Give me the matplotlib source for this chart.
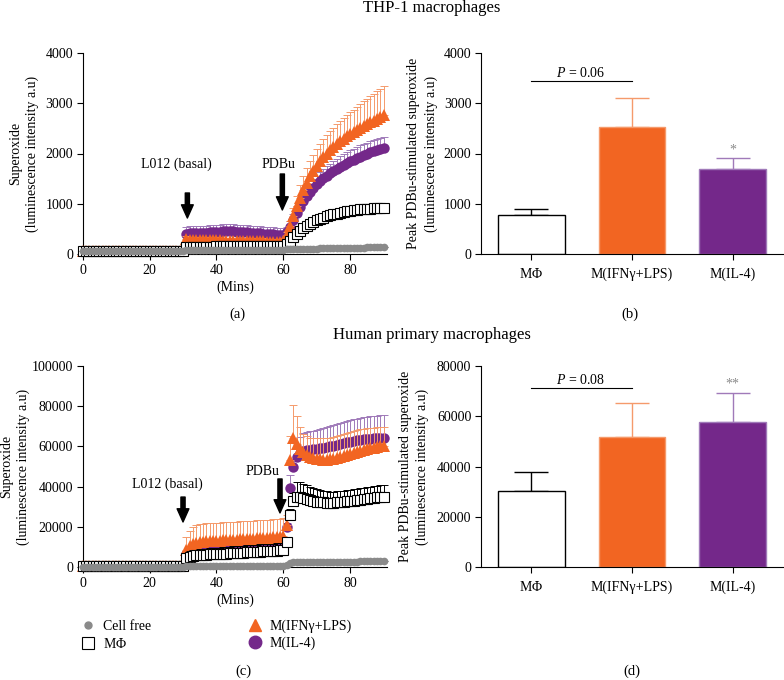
import numpy as np
import matplotlib
matplotlib.use("Agg")
import matplotlib.pyplot as plt
from matplotlib.lines import Line2D

plt.rcParams['font.family'] = 'serif'
plt.rcParams['font.serif'] = ['Liberation Serif', 'DejaVu Serif']
plt.rcParams['mathtext.fontset'] = 'custom'
plt.rcParams['mathtext.rm'] = 'Liberation Serif'
plt.rcParams['mathtext.it'] = 'Liberation Serif:italic'
plt.rcParams['font.size'] = 10

ORANGE = '#F26522'
ORANGE_LT = '#F59A6B'
PURPLE = '#74288A'
PURPLE_LT = '#A07AB9'
GREY = '#8A8A8A'

# time axis (minutes), one reading per minute
mins = np.arange(0, 91)

# ---- THP-1 time course (a) ----
thp_cellfree = [50]*31 + [85]*30 + [
    90, 92, 94, 96, 98, 100, 102, 104, 106, 108, 110, 111, 112, 114, 115,
    117, 118, 120, 121, 123, 124, 126, 127, 129, 130, 132, 134, 136, 138, 140]
thp_mphi = [60]*31 + [
    140, 142, 144, 145, 145, 146, 147, 148, 148, 150, 150, 150, 150, 150, 150,
    150, 150, 150, 150, 150, 150, 150, 150, 152, 153, 154, 155, 156, 158, 160] + [
    200, 260, 330, 400, 460, 510, 560, 600, 640, 670, 700, 725, 750, 770, 790,
    805, 820, 835, 850, 860, 870, 880, 888, 895, 900, 905, 910, 913, 916, 920]
thp_mphi_err = [10]*31 + [15]*30 + [
    40, 45, 50, 55, 60, 62, 64, 66, 68, 70, 70, 72, 72, 74, 74,
    75, 75, 76, 76, 77, 77, 78, 78, 78, 79, 79, 80, 80, 80, 80]
thp_ifn = [60]*31 + [
    290, 288, 286, 284, 282, 280, 278, 276, 274, 272, 270, 268, 266, 265, 264,
    262, 260, 258, 256, 255, 254, 252, 250, 249, 248, 246, 245, 244, 242, 250] + [
    380, 560, 760, 950, 1120, 1280, 1420, 1550, 1660, 1760, 1850, 1930, 2000, 2070, 2130,
    2190, 2240, 2290, 2340, 2380, 2420, 2460, 2500, 2540, 2580, 2620, 2650, 2690, 2720, 2760]
thp_ifn_err = [10]*31 + [60]*30 + [
    60, 100, 150, 200, 250, 280, 300, 310, 320, 330, 340, 350, 360, 370, 380,
    390, 400, 415, 430, 440, 455, 470, 480, 495, 510, 525, 540, 550, 565, 580]
thp_il4 = [60]*31 + [
    400, 410, 415, 420, 420, 425, 425, 430, 435, 440, 445, 450, 455, 455, 450,
    445, 440, 435, 430, 425, 420, 415, 410, 405, 400, 395, 390, 385, 375, 370] + [
    430, 540, 680, 820, 940, 1050, 1150, 1240, 1320, 1390, 1450, 1510, 1560, 1610, 1660,
    1700, 1740, 1780, 1820, 1850, 1880, 1910, 1940, 1970, 1990, 2020, 2040, 2060, 2080, 2100]
thp_il4_err = [10]*31 + [140]*30 + [
    100, 110, 120, 130, 140, 150, 155, 160, 165, 170, 175, 180, 185, 190, 195,
    200, 205, 210, 212, 214, 216, 218, 220, 222, 224, 226, 228, 230, 230, 230]

# ---- Human primary time course (c) ----
hum_cellfree = [200]*31 + [600]*30 + [
    1200, 2000, 2400, 2500, 2520, 2540, 2560, 2580, 2600, 2610, 2620, 2630, 2640, 2650, 2660,
    2670, 2680, 2690, 2700, 2710, 2720, 2730, 2740, 2750, 2760, 2770, 2780, 2790, 2800, 2800]
hum_mphi = [300]*31 + [
    4500, 5200, 5600, 5800, 6000, 6100, 6200, 6300, 6400, 6500, 6600, 6650, 6700, 6800, 6900,
    7000, 7100, 7200, 7300, 7400, 7500, 7600, 7700, 7800, 7900, 8000, 8100, 8200, 8400, 8600] + [
    12600, 26000, 33000, 35000, 34800, 34200, 33600, 33200, 32800, 32500, 32300, 32100, 32000, 32000, 32000,
    32100, 32200, 32400, 32600, 32800, 33000, 33200, 33500, 33700, 34000, 34200, 34400, 34600, 34800, 35000]
hum_mphi_err = [300]*31 + [
    2500, 2600, 2700, 2800, 2900, 3000, 3000, 3000, 3100, 3100, 3100, 3200, 3200, 3200, 3300,
    3300, 3300, 3300, 3400, 3400, 3400, 3400, 3500, 3500, 3500, 3500, 3500, 3500, 3500, 3500] + [
    2000, 3000, 4000, 7500, 7500, 7200, 7000, 6800, 6500, 6200, 6000, 5800, 5600, 5500, 5500,
    5500, 5500, 5500, 5500, 5500, 5600, 5600, 5600, 5700, 5700, 5700, 5800, 5800, 5800, 5800]
hum_ifn = [400]*31 + [
    8600, 10500, 11500, 12000, 12300, 12500, 12700, 12800, 12900, 13000, 13100, 13200, 13300, 13400, 13500,
    13600, 13700, 13800, 13900, 14000, 14100, 14200, 14300, 14400, 14500, 14600, 14700, 14800, 14900, 15500] + [
    21000, 53000, 64000, 61000, 58500, 57000, 55800, 54800, 54200, 53800, 53500, 53400, 53400, 53500, 53800,
    54200, 54700, 55200, 55700, 56200, 56700, 57200, 57700, 58200, 58600, 59000, 59400, 59800, 60100, 60400]
hum_ifn_err = [500]*31 + [
    6500, 7500, 8500, 8800, 9000, 9000, 9000, 9000, 9000, 9000, 9000, 9000, 9000, 9000, 9000,
    9000, 9000, 9000, 9000, 9000, 9000, 9000, 9000, 9000, 9000, 9000, 9000, 9000, 9000, 9000] + [
    5000, 12000, 16600, 14000, 11000, 9000, 9200, 9500, 10000, 10400, 10500, 10600, 10700, 10800, 10900,
    11000, 11000, 11100, 11100, 11100, 11000, 10900, 10800, 10600, 10400, 10200, 10000, 9800, 9600, 9400]
hum_il4 = [300]*31 + [
    6500, 7000, 7300, 7600, 7900, 8100, 8300, 8500, 8700, 8900, 9100, 9300, 9500, 9700, 9900,
    10000, 10200, 10300, 10500, 10600, 10800, 10900, 11100, 11200, 11400, 11500, 11600, 11700, 11800, 12000] + [
    20000, 39300, 49900, 54900, 56500, 57500, 58000, 58300, 58500, 58700, 59000, 59300, 59600, 60000, 60400,
    60800, 61200, 61600, 62000, 62400, 62700, 63000, 63300, 63500, 63700, 63900, 64000, 64100, 64200, 64300]
hum_il4_err = [300]*31 + [1500]*30 + [
    2000, 6500, 4000, 6000, 8000, 9000, 9000, 9200, 9400, 9500, 9600, 9800, 9900, 10000, 10100,
    10200, 10300, 10400, 10500, 10600, 10700, 10800, 10900, 11000, 11000, 11100, 11200, 11200, 11300, 11300]

# ---- peak bars (b, d) ----
groups = ['M$\\mathit{\u03a6}$', 'M(IFN\u03b3+LPS)', 'M(IL-4)']
thp_peak = [770, 2527, 1692]
thp_peak_err = [132, 571, 212]
hum_peak = [30100, 51900, 57900]
hum_peak_err = [7650, 13250, 11500]

W, H = 784, 680
fig = plt.figure(figsize=(W / 100, H / 100), dpi=100)


def px_axes(left, top, right, bottom):
    return fig.add_axes([left / W, 1 - bottom / H, (right - left) / W, (bottom - top) / H])


def style_axes(ax):
    for s in ['top', 'right']:
        ax.spines[s].set_visible(False)
    for s in ['left', 'bottom']:
        ax.spines[s].set_linewidth(0.8)
    ax.tick_params(direction='out', length=4.5, width=0.8, labelsize=10, pad=2.5)


def course(ax, series, ymax, ystep):
    for vals, err, mk, fc, ec, ms, errc, z in series:
        vals = np.array(vals, float)
        err = np.array(err, float)
        ax.errorbar(mins, vals, yerr=[np.zeros_like(err), err], fmt='none',
                    ecolor=errc, elinewidth=0.7, capsize=2.6, capthick=0.7,
                    zorder=z, clip_on=False)
        ax.plot(mins, vals, linestyle='none', marker=mk, markersize=ms,
                markerfacecolor=fc, markeredgecolor=ec,
                markeredgewidth=0.8 if ec != fc else 0, zorder=z + 0.5, clip_on=False)
    ax.set_xlim(0, 91)
    ax.set_ylim(0, ymax)
    ax.set_xticks([0, 20, 40, 60, 80])
    ax.set_yticks(np.arange(0, ymax + 1, ystep))
    ax.set_xlabel('(Mins)', labelpad=3)
    style_axes(ax)


def bars(ax, vals, errs, ymax, ystep):
    x = np.arange(len(groups))
    fills = ['white', ORANGE, PURPLE]
    edges = ['black', ORANGE_LT, PURPLE_LT]
    ax.bar(x, vals, width=0.66, color=fills, edgecolor=edges, linewidth=1.0, zorder=2)
    for i in range(len(groups)):
        ax.errorbar(x[i], vals[i], yerr=[[0], [errs[i]]], fmt='none', ecolor=edges[i],
                    elinewidth=1.0, capsize=12, capthick=1.0, zorder=1)
    ax.set_xlim(-0.5, 2.5)
    ax.set_ylim(0, ymax)
    ax.set_xticks(x)
    ax.set_xticklabels(groups)
    ax.set_yticks(np.arange(0, ymax + 1, ystep))
    style_axes(ax)
    ax.tick_params(axis='x', pad=5)


def arrow(ax, x, ytail, ytip):
    ax.annotate('', xy=(x, ytip), xytext=(x, ytail),
                arrowprops=dict(arrowstyle='simple,head_length=0.95,head_width=0.85,tail_width=0.3',
                                color='black', mutation_scale=10, shrinkA=0, shrinkB=0))


ylab_course = 'Superoxide\n(luminescence intensity a.u)'
ylab_peak = 'Peak PDBu-stimulated superoxide\n(luminescence intensity a.u)'

# (a)
ax_a = px_axes(82.7, 53, 387, 254)
course(ax_a, [
    (thp_il4, thp_il4_err, 'o', PURPLE, PURPLE, 7.5, PURPLE_LT, 2),
    (thp_ifn, thp_ifn_err, '^', ORANGE, ORANGE, 8.5, ORANGE_LT, 3),
    (thp_mphi, thp_mphi_err, 's', 'white', 'black', 7.2, 'black', 4),
    (thp_cellfree, [8] * 91, 'o', GREY, GREY, 5.5, GREY, 5),
], 4000, 1000)
ax_a.set_ylabel(ylab_course, linespacing=1.35, va='center')
ax_a.yaxis.set_label_coords((24 - 82.7) / 304.3, 0.5)
ax_a.text(28, 1790, 'L012 (basal)', ha='center', va='center')
arrow(ax_a, 31.3, 1214, 716)
ax_a.text(58.4, 1790, 'PDBu', ha='center', va='center')
arrow(ax_a, 59.7, 1592, 876)

# (b)
ax_b = px_axes(481, 53, 783, 254)
bars(ax_b, thp_peak, thp_peak_err, 4000, 1000)
ax_b.set_ylabel(ylab_peak, linespacing=1.35, va='center')
ax_b.yaxis.set_label_coords((422.5 - 481) / 302, 0.5)
ax_b.plot([0, 1], [3450, 3450], color='black', lw=0.8)
ax_b.text(0.49, 3600, '$P$ = 0.06', ha='center', va='center')
ax_b.text(2, 2060, '*', ha='center', va='center', color=GREY, fontsize=10)

# (c)
ax_c = px_axes(82.7, 366, 387, 567)
course(ax_c, [
    (hum_il4, hum_il4_err, 'o', PURPLE, PURPLE, 7.5, PURPLE_LT, 2),
    (hum_ifn, hum_ifn_err, '^', ORANGE, ORANGE, 8.5, ORANGE_LT, 3),
    (hum_mphi, hum_mphi_err, 's', 'white', 'black', 7.2, 'black', 4),
    (hum_cellfree, [150] * 91, 'o', GREY, GREY, 5.5, GREY, 5),
], 100000, 20000)
ax_c.set_ylabel(ylab_course, linespacing=1.35, va='center')
ax_c.yaxis.set_label_coords((15 - 82.7) / 304.3, 0.5)
ax_c.text(25.2, 41300, 'L012 (basal)', ha='center', va='center')
arrow(ax_c, 30, 34800, 22400)
ax_c.text(53.7, 47300, 'PDBu', ha='center', va='center')
arrow(ax_c, 59, 43800, 26900)

# (d)
ax_d = px_axes(481, 366, 783, 567)
bars(ax_d, hum_peak, hum_peak_err, 80000, 20000)
ax_d.set_ylabel(ylab_peak, linespacing=1.35, va='center')
ax_d.yaxis.set_label_coords((414 - 481) / 302, 0.5)
ax_d.plot([0, 1], [71100, 71100], color='black', lw=0.8)
ax_d.text(0.49, 74400, '$P$ = 0.08', ha='center', va='center')
ax_d.text(2, 72800, '**', ha='center', va='center', color=GREY, fontsize=10)

# legend under (c)
handles = [
    Line2D([], [], ls='none', marker='o', ms=5, mfc=GREY, mec=GREY),
    Line2D([], [], ls='none', marker='s', ms=8, mfc='white', mec='black', mew=0.8),
    Line2D([], [], ls='none', marker='^', ms=9, mfc=ORANGE, mec=ORANGE),
    Line2D([], [], ls='none', marker='o', ms=9, mfc=PURPLE, mec=PURPLE),
]
labels = ['Cell free', 'M$\\mathit{\u03a6}$', 'M(IFN\u03b3+LPS)', 'M(IL-4)']
fig.legend(handles, labels, ncol=2, loc='upper left', bbox_to_anchor=(81.4 / W, 1 - 620 / H),
           frameon=False, borderpad=0, borderaxespad=0, handlelength=1.0, handletextpad=0.55,
           columnspacing=7.0, labelspacing=0.25, fontsize=10)

# titles and panel letters
fig.text(432 / W, 1 - 8 / H, 'THP-1 macrophages', ha='center', va='center', fontsize=12)
fig.text(432 / W, 1 - 335 / H, 'Human primary macrophages', ha='center', va='center', fontsize=12)
fig.text(237 / W, 1 - 314 / H, '(a)', ha='center', va='center', fontsize=10.5)
fig.text(630 / W, 1 - 314 / H, '(b)', ha='center', va='center', fontsize=10.5)
fig.text(243 / W, 1 - 671 / H, '(c)', ha='center', va='center', fontsize=10.5)
fig.text(632 / W, 1 - 671 / H, '(d)', ha='center', va='center', fontsize=10.5)

fig.savefig('out.png', dpi=100)
